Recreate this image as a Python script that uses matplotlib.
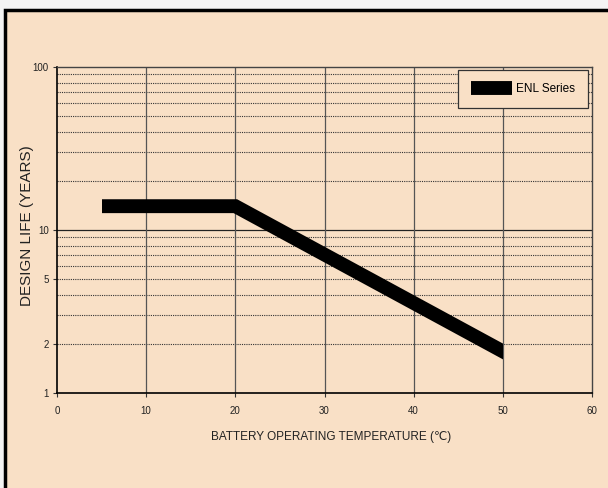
import matplotlib
matplotlib.use("Agg")
import matplotlib.pyplot as plt
from matplotlib.patches import Rectangle

plt.rcParams['font.family'] = ['Liberation Sans Narrow', 'Liberation Sans', 'DejaVu Sans']

temps = [5, 20, 50]
life = [14, 14, 1.8]
series_name = "ENL Series"
x_ticks = [0, 10, 20, 30, 40, 50, 60]
y_ticks = [1, 2, 5, 10, 100]
y_grid_minor = [2, 3, 4, 5, 6, 7, 8, 9, 20, 30, 40, 50, 60, 70, 80, 90]

W, H = 608, 488
peach = '#f9e0c6'
fig = plt.figure(figsize=(6.08, 4.88), dpi=100, facecolor='#f4f4f4')
fig.patches.append(Rectangle((5/W, -0.02), 1.0, 0.02 + (H-10)/H, transform=fig.transFigure,
                             facecolor=peach, edgecolor='black', linewidth=2.5, zorder=-10))

L, R, T, B = 57, 592, 67, 393
ax = fig.add_axes([L/W, (H-B)/H, (R-L)/W, (B-T)/H])
ax.set_zorder(1)
ax.set_facecolor('none')
ax.set_yscale('log')
ax.set_xlim(0, 60)
ax.set_ylim(1, 100)

for yv in y_grid_minor:
    ax.axhline(yv, color='#333333', linestyle=(0, (1, 1)), linewidth=0.8, zorder=1)
ax.axhline(10, color='#222222', linewidth=0.9, zorder=1)
for xv in x_ticks[1:-1]:
    ax.axvline(xv, color='#555555', linewidth=0.9, zorder=1)

line, = ax.plot(temps, life, color='black', linewidth=10, solid_capstyle='projecting',
                solid_joinstyle='miter', zorder=3, label=series_name)
clip = Rectangle((min(temps), 1), max(temps) - min(temps), 99, transform=ax.transData)
line.set_clip_path(clip)

ax.set_xticks(x_ticks)
ax.set_xticklabels([str(v) for v in x_ticks])
ax.set_yticks(y_ticks)
ax.set_yticklabels([str(v) for v in y_ticks])
ax.yaxis.set_minor_locator(matplotlib.ticker.NullLocator())
ax.tick_params(axis='both', labelsize=7, length=3, width=0.8, color='#333333', labelcolor='#222222')
ax.tick_params(axis='x', pad=6)
ax.tick_params(axis='y', pad=3)

for s in ['left', 'bottom']:
    ax.spines[s].set_color('black')
    ax.spines[s].set_linewidth(1.2)
for s in ['top', 'right']:
    ax.spines[s].set_color('#444444')
    ax.spines[s].set_linewidth(1.0)

ax.set_xlabel('BATTERY OPERATING TEMPERATURE (\u2103)', fontsize=8.5, color='#222222', va='center')
ax.xaxis.set_label_coords(331/W, 1 - 437/H, transform=fig.transFigure)
ax.set_ylabel('DESIGN LIFE (YEARS)', fontsize=11, color='#222222', va='center')
ax.yaxis.set_label_coords(27/W, 1 - 226/H, transform=fig.transFigure)

leg = ax.legend(loc='upper right', bbox_to_anchor=(588/W, 1 - 70/H), bbox_transform=fig.transFigure,
                fontsize=8.5, frameon=True, fancybox=False, handlelength=3.5, borderpad=1.1,
                handletextpad=0.35, borderaxespad=0)
leg.get_frame().set_facecolor(peach)
leg.get_frame().set_edgecolor('#333333')
leg.get_frame().set_linewidth(0.9)
leg.get_frame().set_alpha(1)
leg.set_zorder(5)
for h in leg.get_lines():
    h.set_solid_capstyle('butt')

fig.savefig('out.png', dpi=100, facecolor=fig.get_facecolor())
